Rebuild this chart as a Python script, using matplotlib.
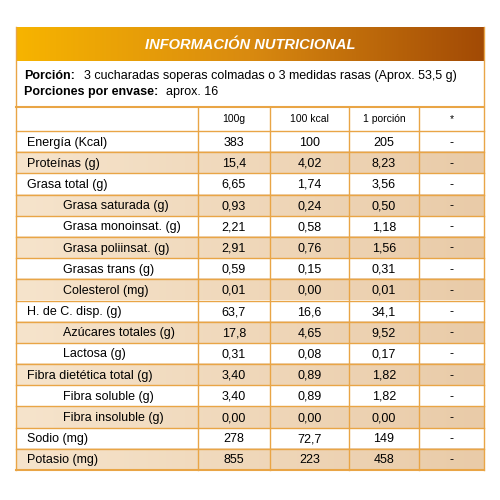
import matplotlib.pyplot as plt
import numpy as np
from matplotlib.colors import LinearSegmentedColormap

labels = ['Energía (Kcal)', 'Proteínas (g)', 'Grasa total (g)', 'Grasa saturada (g)',
          'Grasa monoinsat. (g)', 'Grasa poliinsat. (g)', 'Grasas trans (g)', 'Colesterol (mg)',
          'H. de C. disp. (g)', 'Azúcares totales (g)', 'Lactosa (g)', 'Fibra dietética total (g)',
          'Fibra soluble (g)', 'Fibra insoluble (g)', 'Sodio (mg)', 'Potasio (mg)']
indent = [0, 0, 0, 1, 1, 1, 1, 1, 0, 1, 1, 0, 1, 1, 0, 0]
v100g = ['383', '15,4', '6,65', '0,93', '2,21', '2,91', '0,59', '0,01', '63,7', '17,8', '0,31',
         '3,40', '3,40', '0,00', '278', '855']
v100kcal = ['100', '4,02', '1,74', '0,24', '0,58', '0,76', '0,15', '0,00', '16,6', '4,65', '0,08',
            '0,89', '0,89', '0,00', '72,7', '223']
vporcion = ['205', '8,23', '3,56', '0,50', '1,18', '1,56', '0,31', '0,01', '34,1', '9,52', '0,17',
            '1,82', '1,82', '0,00', '149', '458']
vstar = ['-'] * 16
headers = ['100g', '100 kcal', '1 porción', '*']

fig = plt.figure(figsize=(5, 5), dpi=100)
ax = fig.add_axes([0, 0, 1, 1])
ax.set_xlim(0, 500)
ax.set_ylim(500, 0)
ax.axis('off')

L, R = 16, 484
line = '#e9a546'
cols = [198, 270, 349, 419, R]
fam = 'Liberation Sans'

# header gradient
hcmap = LinearSegmentedColormap.from_list('h', ['#f7b400', '#d98a10', '#a24a05'])
ax.imshow(np.linspace(0, 1, 256)[None, :], cmap=hcmap, extent=[L, R, 61, 27], aspect='auto', zorder=1)
ax.text(250, 45, 'INFORMACIÓN NUTRICIONAL', ha='center', va='center', color='white',
        fontsize=10.5, fontweight='bold', style='italic', family=fam, zorder=3)

ax.text(24, 76, 'Porción:', fontsize=9, va='center', fontweight='bold', family=fam)
ax.text(84, 76, '3 cucharadas soperas colmadas o 3 medidas rasas (Aprox. 53,5 g)',
        fontsize=9, va='center', family=fam)
ax.text(24, 92, 'Porciones por envase:', fontsize=9, va='center', fontweight='bold', family=fam)
ax.text(166, 92, 'aprox. 16', fontsize=9, va='center', family=fam)

top, hdr = 107, 131
rowh = (470 - hdr) / len(labels)
rcmap = LinearSegmentedColormap.from_list('r', ['#f6e4cc', '#e9cba8'])
for i in range(len(labels)):
    y0 = hdr + i * rowh
    if i % 2 == 1:
        ax.imshow(np.linspace(0, 1, 256)[None, :], cmap=rcmap, extent=[L, R, y0 + rowh, y0],
                  aspect='auto', zorder=1)
    yc = y0 + rowh / 2 + 1
    ax.text(27 + 36 * indent[i], yc, labels[i], va='center', fontsize=9, family=fam)
    for j, vals in enumerate([v100g, v100kcal, vporcion, vstar]):
        xc = (cols[j] + cols[j + 1]) / 2
        ax.text(xc, yc, vals[i], ha='center', va='center', fontsize=9, family=fam)
    ax.plot([L, R], [y0, y0], color=line, lw=1, zorder=2)

for j, h in enumerate(headers):
    ax.text((cols[j] + cols[j + 1]) / 2, (top + hdr) / 2, h, ha='center', va='center',
            fontsize=7.5, family=fam)

ax.plot([L, R], [top, top], color=line, lw=1.5, zorder=2)
ax.plot([L, R], [470, 470], color=line, lw=1.5, zorder=2)
for x in cols[:-1]:
    ax.plot([x, x], [top, 470], color=line, lw=1, zorder=2)
ax.plot([L, L], [27, 470], color=line, lw=1, zorder=2)
ax.plot([R, R], [27, 470], color=line, lw=1, zorder=2)

fig.savefig('out.png', dpi=100)
